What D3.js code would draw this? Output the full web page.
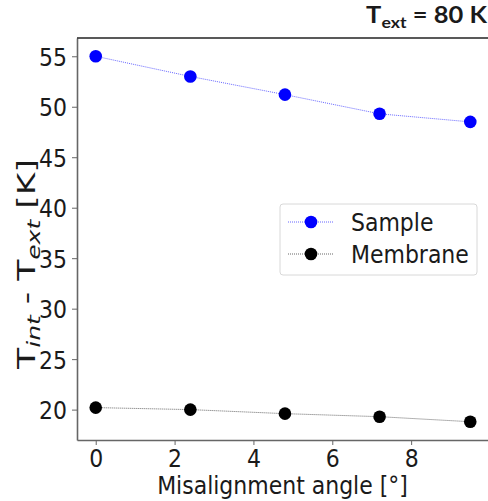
<!DOCTYPE html>
<html>
<head>
<meta charset="utf-8">
<script src="https://cdn.jsdelivr.net/npm/d3@7"></script>
<style>
  html, body { margin: 0; padding: 0; background: #fff; }
  svg { display: block; }
  text { font-family: "DejaVu Sans", sans-serif; fill: #1a1a1a; }
</style>
</head>
<body>
<svg id="chart" width="488" height="501"></svg>
<script>
// Misalignment angle (degrees)
const angles = [0, 2.4, 4.8, 7.2, 9.5];
// Temperature difference T_int - T_ext (K)
const sampleValues = [55.0, 53.0, 51.2, 49.3, 48.5];
const membraneValues = [20.2, 20.0, 19.6, 19.3, 18.8];
const xTicks = [0, 2, 4, 6, 8];
const yTicks = [20, 25, 30, 35, 40, 45, 50, 55];

const series = [
  { name: "Sample", values: sampleValues, color: "#0000ff" },
  { name: "Membrane", values: membraneValues, color: "#000000" }
];

// Text is drawn slightly narrower than tall
const SX = 0.88;
const FS = 25;

const svg = d3.select("#chart");
const plot = { left: 77, right: 489, top: 38, bottom: 440 };

const xMin = d3.min(angles), xMax = d3.max(angles);
const xPad = (xMax - xMin) * 0.05;
const allY = sampleValues.concat(membraneValues);
const yMin = d3.min(allY), yMax = d3.max(allY);
const yPad = (yMax - yMin) * 0.05;

const x = d3.scaleLinear().domain([xMin - xPad, xMax + xPad]).range([plot.left, plot.right]);
const y = d3.scaleLinear().domain([yMin - yPad, yMax + yPad]).range([plot.bottom, plot.top]);

// Axes
const xAxis = svg.append("g")
  .attr("transform", `translate(0,${plot.bottom})`)
  .call(d3.axisBottom(x).tickValues(xTicks).tickFormat(d3.format("d"))
    .tickSize(5).tickSizeOuter(0).tickPadding(4));
const yAxis = svg.append("g")
  .attr("transform", `translate(${plot.left},0)`)
  .call(d3.axisLeft(y).tickValues(yTicks).tickFormat(d3.format("d"))
    .tickSize(5).tickSizeOuter(0).tickPadding(5));

[xAxis, yAxis].forEach(g => {
  g.select(".domain").attr("stroke", "#666").attr("stroke-width", 1.6);
  g.selectAll(".tick line").attr("stroke", "#666").attr("stroke-width", 1);
  g.selectAll(".tick text")
    .attr("fill", "#1a1a1a")
    .attr("transform", `scale(${SX},1)`)
    .style("font-family", "DejaVu Sans, sans-serif")
    .style("font-size", FS + "px");
});
yAxis.selectAll(".tick text").attr("x", -10 / SX).attr("dy", "0.36em");

// Top spine
svg.append("line")
  .attr("x1", plot.left).attr("x2", plot.right)
  .attr("y1", plot.top).attr("y2", plot.top)
  .attr("stroke", "#222").attr("stroke-width", 1.6);

// Series lines and markers
const line = d3.line().x((d, i) => x(angles[i])).y(d => y(d));
series.forEach(s => {
  svg.append("path")
    .datum(s.values)
    .attr("d", line)
    .attr("fill", "none")
    .attr("stroke", s.color)
    .attr("stroke-width", 0.8)
    .attr("stroke-dasharray", "1,1")
    .attr("opacity", 0.75);
  svg.append("g").selectAll("circle")
    .data(s.values)
    .join("circle")
    .attr("cx", (d, i) => x(angles[i]))
    .attr("cy", d => y(d))
    .attr("r", 6.3)
    .attr("fill", s.color);
});

// Legend
const legend = svg.append("g").attr("transform", "translate(280,204)");
legend.append("rect")
  .attr("x", 0).attr("y", 0).attr("width", 197).attr("height", 71)
  .attr("rx", 3)
  .attr("fill", "#fff").attr("fill-opacity", 0.85)
  .attr("stroke", "#d8d8d8").attr("stroke-width", 1);
series.forEach((s, i) => {
  const cy = 18 + i * 32;
  legend.append("line")
    .attr("x1", 8).attr("x2", 53).attr("y1", cy).attr("y2", cy)
    .attr("stroke", s.color).attr("stroke-width", 0.8)
    .attr("stroke-dasharray", "1,1").attr("opacity", 0.75);
  legend.append("circle").attr("cx", 31).attr("cy", cy).attr("r", 6.3).attr("fill", s.color);
  legend.append("text")
    .attr("transform", `translate(71,${cy + 9}) scale(${SX},1)`)
    .style("font-size", FS + "px")
    .text(s.name);
});

// X axis label
svg.append("text")
  .attr("transform", `translate(${(plot.left + 488) / 2},494) scale(${SX},1)`)
  .attr("text-anchor", "middle")
  .style("font-size", FS + "px")
  .text("Misalignment angle [°]");

// Y axis label, stretched along its length to span the plot's middle
const yLabelLength = 210;
const yLabelCenter = 264;
const yl = svg.append("text")
  .attr("text-anchor", "middle")
  .style("font-size", "29px");
yl.append("tspan").text("T");
yl.append("tspan").attr("dy", 6).style("font-size", "21px").style("font-style", "italic").text("int");
yl.append("tspan").attr("dy", -6).text(" - T");
yl.append("tspan").attr("dy", 6).style("font-size", "21px").style("font-style", "italic").text("ext");
yl.append("tspan").attr("dy", -6).text(" [K]");
const ylw = yl.node().getComputedTextLength();
yl.attr("transform",
  `translate(35,${yLabelCenter}) scale(${SX},1) rotate(-90) scale(${yLabelLength / ylw},1)`);

// Title
const title = svg.append("text")
  .attr("text-anchor", "end")
  .style("font-family", "Lato, sans-serif")
  .style("font-weight", "bold")
  .style("font-size", "23px");
title.append("tspan").text("T");
title.append("tspan").attr("dy", 5).style("font-size", "16px").text("ext");
title.append("tspan").attr("dy", -5).text(" = 80 K");
const tw = title.node().getComputedTextLength();
title.attr("transform", `translate(487,23) scale(${121 / tw},1)`);
</script>
</body>
</html>
